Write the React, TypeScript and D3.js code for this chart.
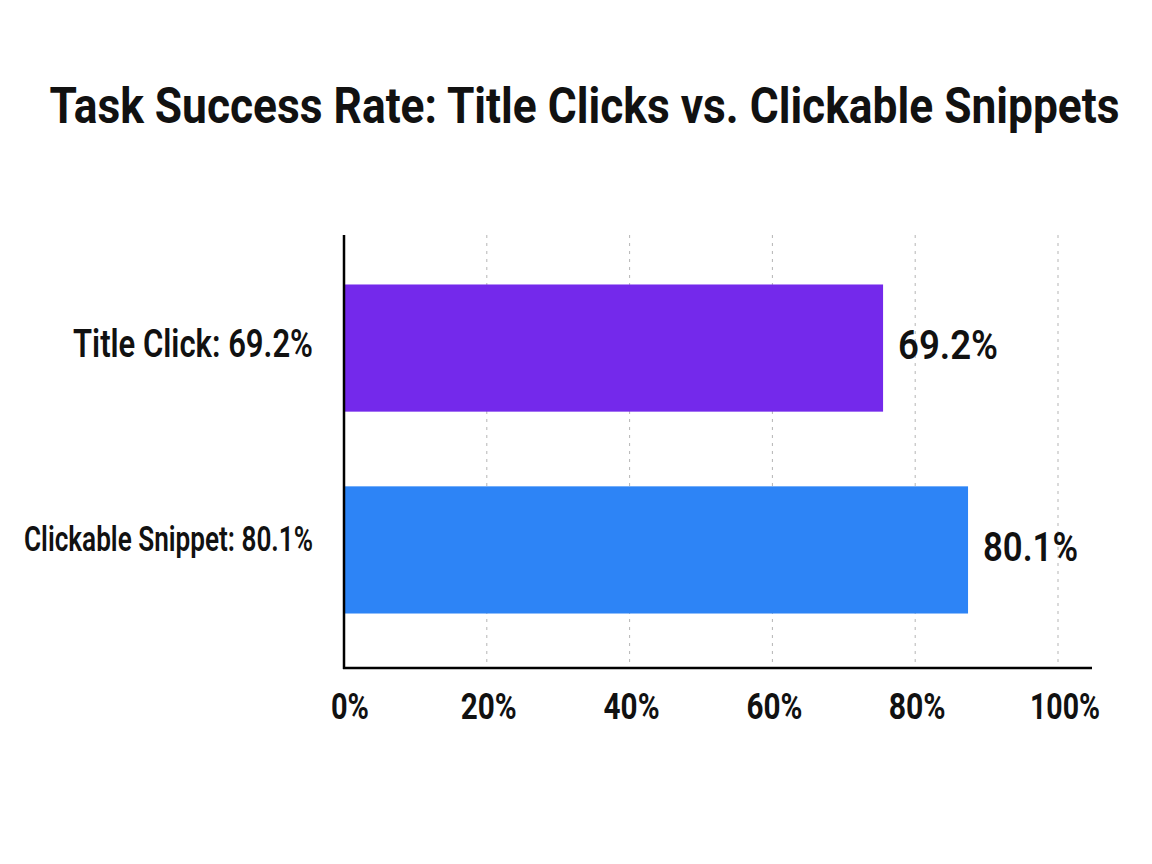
import React from "react";
import * as d3 from "d3";

// ---- data ----
const title = "Task Success Rate: Title Clicks vs. Clickable Snippets";
const categories = ["Title Click: 69.2%", "Clickable Snippet: 80.1%"];
const valueLabels = ["69.2%", "80.1%"];
// reported values
const values = [69.2, 80.1];
// bar extents as drawn against the axis in the reference
const barExtents = [75.5, 87.4];
const barColors = ["#7429EB", "#2D84F6"];
const tickValues = [0, 20, 40, 60, 80, 100];
const tickLabels = ["0%", "20%", "40%", "60%", "80%", "100%"];

const W = 1152;
const H = 864;
const left = 344;
const right = 1058;
const top = 235;
const bottom = 668;

const font = "Roboto, 'Liberation Sans', sans-serif";

export default function App() {
  const x = d3.scaleLinear().domain([0, 100]).range([left, right]);
  const y = d3
    .scaleBand<string>()
    .domain(categories)
    .range([top - 3, bottom - 2])
    .paddingInner(0.37)
    .paddingOuter(0.26);
  const bw = y.bandwidth();

  const catSize = [38, 35];
  const catWidth = [240, 289];
  const valWidth = [100, 95];
  const tickWidth = [38, 56, 56, 56, 57, 70];
  const titleScaleY = 1.32;

  return (
    <svg
      width={W}
      height={H}
      style={{ position: "absolute", left: 0, top: 0, background: "#fff" }}
    >
      <rect x={0} y={0} width={W} height={H} fill="#fff" />
      <g transform={`translate(584.5, 123) scale(1, ${titleScaleY})`}>
        <text
          x={0}
          y={0}
          textAnchor="middle"
          fontFamily={font}
          fontWeight={700}
          fontSize={38}
          textLength={1070}
          lengthAdjust="spacingAndGlyphs"
          fill="#111"
        >
          {title}
        </text>
      </g>

      {/* grid */}
      {tickValues
        .filter((t) => t > 0)
        .map((t) => (
          <line
            key={"g" + t}
            x1={x(t)}
            x2={x(t)}
            y1={top}
            y2={bottom}
            stroke="#b5b5b5"
            strokeWidth={1}
            strokeDasharray="3,5"
          />
        ))}

      {/* bars */}
      {categories.map((c, i) => (
        <rect
          key={"b" + c}
          x={x(0)}
          y={y(c)!}
          width={x(barExtents[i]) - x(0)}
          height={bw}
          fill={barColors[i]}
        />
      ))}

      {/* value labels */}
      {categories.map((c, i) => (
        <text
          key={"v" + c}
          x={x(barExtents[i]) + 15}
          y={y(c)! + bw / 2 + 11}
          fontFamily={font}
          fontWeight={600}
          fontSize={40}
          textLength={valWidth[i]}
          lengthAdjust="spacingAndGlyphs"
          fill="#111"
          data-value={values[i]}
        >
          {valueLabels[i]}
        </text>
      ))}

      {/* category labels */}
      {categories.map((c, i) => (
        <text
          key={"c" + c}
          x={313}
          y={y(c)! + bw / 2 + (i === 0 ? 9 : 1)}
          textAnchor="end"
          fontFamily={font}
          fontWeight={600}
          fontSize={catSize[i]}
          textLength={catWidth[i]}
          lengthAdjust="spacingAndGlyphs"
          fill="#111"
        >
          {c}
        </text>
      ))}

      {/* axes */}
      <line x1={left} x2={left} y1={top} y2={bottom + 1} stroke="#000" strokeWidth={2.5} />
      <line x1={left - 1} x2={1092} y1={bottom} y2={bottom} stroke="#000" strokeWidth={2.5} />

      {/* tick labels */}
      {tickValues.map((t, i) => (
        <text
          key={"t" + t}
          x={x(t) + (i === 0 ? 6 : i === 5 ? 7 : 2)}
          y={719}
          textAnchor="middle"
          fontFamily={font}
          fontWeight={700}
          fontSize={36}
          textLength={tickWidth[i]}
          lengthAdjust="spacingAndGlyphs"
          fill="#111"
        >
          {tickLabels[i]}
        </text>
      ))}
    </svg>
  );
}
